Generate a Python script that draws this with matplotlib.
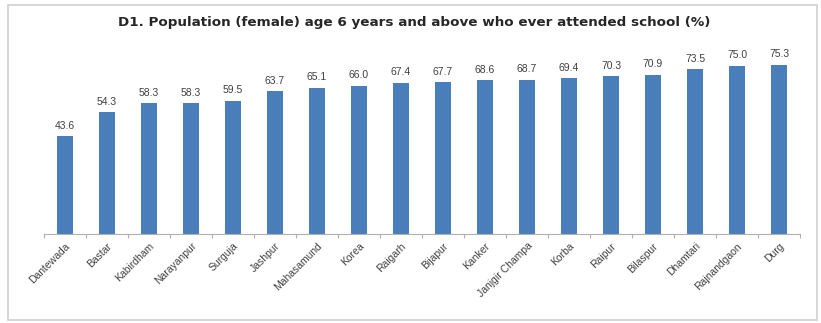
import matplotlib
matplotlib.use('Agg')
import matplotlib.pyplot as plt
from matplotlib.patches import Rectangle

# --- Data ---
districts = ['Dantewada', 'Bastar', 'Kabirdham', 'Narayanpur', 'Surguja', 'Jashpur',
             'Mahasamund', 'Korea', 'Raigarh', 'Bijapur', 'Kanker', 'Janjgir Champa',
             'Korba', 'Raipur', 'Bilaspur', 'Dhamtari', 'Rajnandgaon', 'Durg']
values = [43.6, 54.3, 58.3, 58.3, 59.5, 63.7, 65.1, 66.0, 67.4, 67.7, 68.6, 68.7,
          69.4, 70.3, 70.9, 73.5, 75.0, 75.3]

TITLE = 'D1. Population (female) age 6 years and above who ever attended school (%)'
BAR_COLOR = '#4a7ebb'

fig = plt.figure(figsize=(8.21, 3.23), dpi=100)
fig.patches.append(Rectangle((0.01, 0.01), 0.985, 0.975, transform=fig.transFigure,
                             fill=False, edgecolor='#d0d0d0', linewidth=1.2))

n = len(values)
unit = 42.0 / 821
ax = fig.add_axes([44 / 821, 0.2755, unit * n, 0.5556])
x = list(range(n))
ax.bar(x, values, width=0.4, color=BAR_COLOR, zorder=2)

for xi, v in zip(x, values):
    ax.text(xi, v + 2.5, f'{v:.1f}', ha='center', va='bottom', fontsize=7.5,
            color='#404040', family='Liberation Sans')

ax.set_xlim(-0.5, n - 0.5)
ax.set_ylim(0, 80)
ax.set_yticks([])
for s in ['top', 'right', 'left']:
    ax.spines[s].set_visible(False)
ax.spines['bottom'].set_color('#b0b0b0')

# small ticks between categories, labels centred under the bars
ax.set_xticks([i - 0.5 for i in range(n + 1)])
ax.set_xticklabels([])
ax.tick_params(axis='x', which='major', length=3, color='#b0b0b0')
ax.set_xticks(x, minor=True)
ax.set_xticklabels(districts, minor=True, rotation=45, ha='right',
                   rotation_mode='anchor', fontsize=7.5, color='#404040',
                   family='Liberation Sans')
ax.tick_params(axis='x', which='minor', length=0, pad=5)

fig.text(0.505, 0.93, TITLE, ha='center', va='center', fontsize=9.7,
         fontweight='bold', color='#262626')

plt.savefig('out.png', dpi=100)
